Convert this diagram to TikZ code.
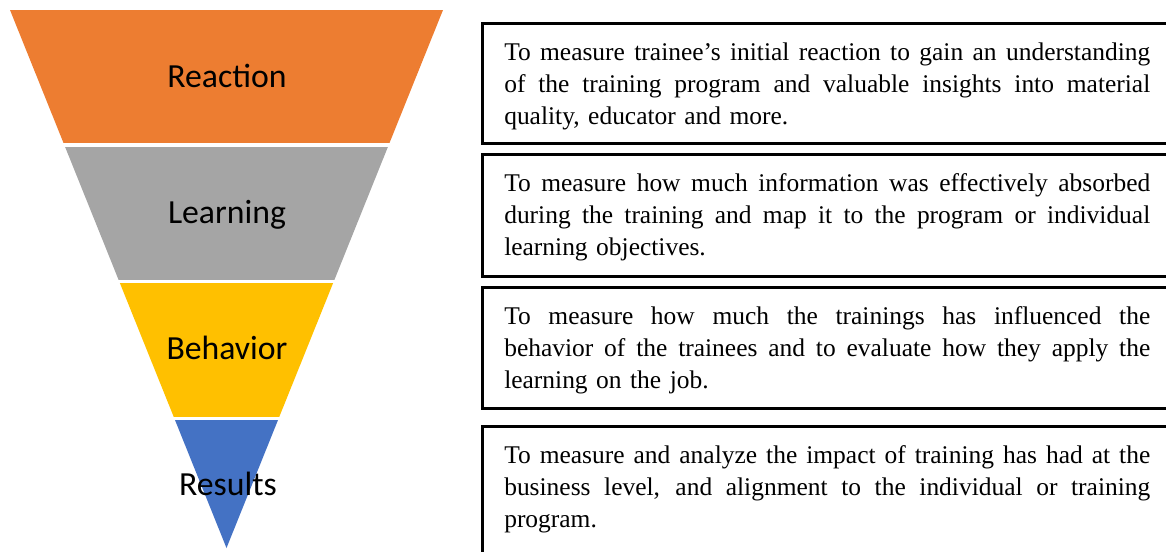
\documentclass[tikz,border=0pt]{standalone}
\usepackage{fontspec}
\setmainfont{Liberation Serif}
\newfontfamily\labelfont{Carlito}
\setlength{\parindent}{0pt}
\definecolor{cReact}{HTML}{ED7D31}
\definecolor{cLearn}{HTML}{A5A5A5}
\definecolor{cBehav}{HTML}{FFC000}
\definecolor{cRes}{HTML}{4472C4}
\newcommand{\jl}[1]{\leavevmode\hbox to 484.5pt{\spaceskip=0.25em plus 1em minus 0.08em\relax #1}\\}
\begin{document}
\begin{tikzpicture}[x=0.75pt,y=-0.75pt,
  lab/.style={anchor=base, inner sep=0pt, text=black, font=\labelfont\fontsize{25.3pt}{30pt}\selectfont},
  descbox/.style={draw=black, line width=2.25pt, anchor=north west, inner sep=0pt, outer sep=0pt, minimum width=540pt},
  desc/.style={anchor=north west, inner sep=0pt, text width=484.5pt, align=left, font=\fontsize{19.1pt}{24pt}\selectfont}
]
\useasboundingbox (0,0) rectangle (1166,551);
\clip (0,0) rectangle (1166,551);
% funnel
\begin{scope}
  \clip (10,10) -- (443,10) -- (226.5,548) -- cycle;
  \fill[cReact] (0,10) rectangle (460,143.3);
  \fill[cLearn] (0,146.7) rectangle (460,280);
  \fill[cBehav] (0,283.3) rectangle (460,416.5);
  \fill[cRes] (0,419.8) rectangle (460,560);
\end{scope}
\node[lab] (lreact) at (227,87.3) {Reaction};
\node[lab] (llearn) at (227,223.3) {Learning};
\node[lab] (lbehav) at (227,359.3) {Behavior};
\node[lab] (lres) at (228,495) {Results};
% boxes
\node[descbox, minimum height=90pt] (b1) at (482,23) {};
\node[descbox, minimum height=91.5pt] (b2) at (482,154) {};
\node[descbox, minimum height=91.1pt] (b3) at (482,287.5) {};
\node[descbox, minimum height=108pt] (b4) at (482,426) {};
\node[desc] (t1) at ([shift={(22,19)}]b1.north west) {\rule{0pt}{13.5pt}\jl{To measure trainee’s initial reaction to gain an understanding}\jl{of the training program and valuable insights into material}quality, educator and more.};
\node[desc] (t2) at ([shift={(22,19)}]b2.north west) {\rule{0pt}{13.5pt}\jl{To measure how much information was effectively absorbed}\jl{during the training and map it to the program or individual}learning objectives.};
\node[desc] (t3) at ([shift={(22,19)}]b3.north west) {\rule{0pt}{13.5pt}\jl{To measure how much the trainings has influenced the}\jl{behavior of the trainees and to evaluate how they apply the}learning on the job.};
\node[desc] (t4) at ([shift={(22,19)}]b4.north west) {\rule{0pt}{13.5pt}\jl{To measure and analyze the impact of training has had at the}\jl{business level, and alignment to the individual or training}program.};
\end{tikzpicture}
\end{document}
